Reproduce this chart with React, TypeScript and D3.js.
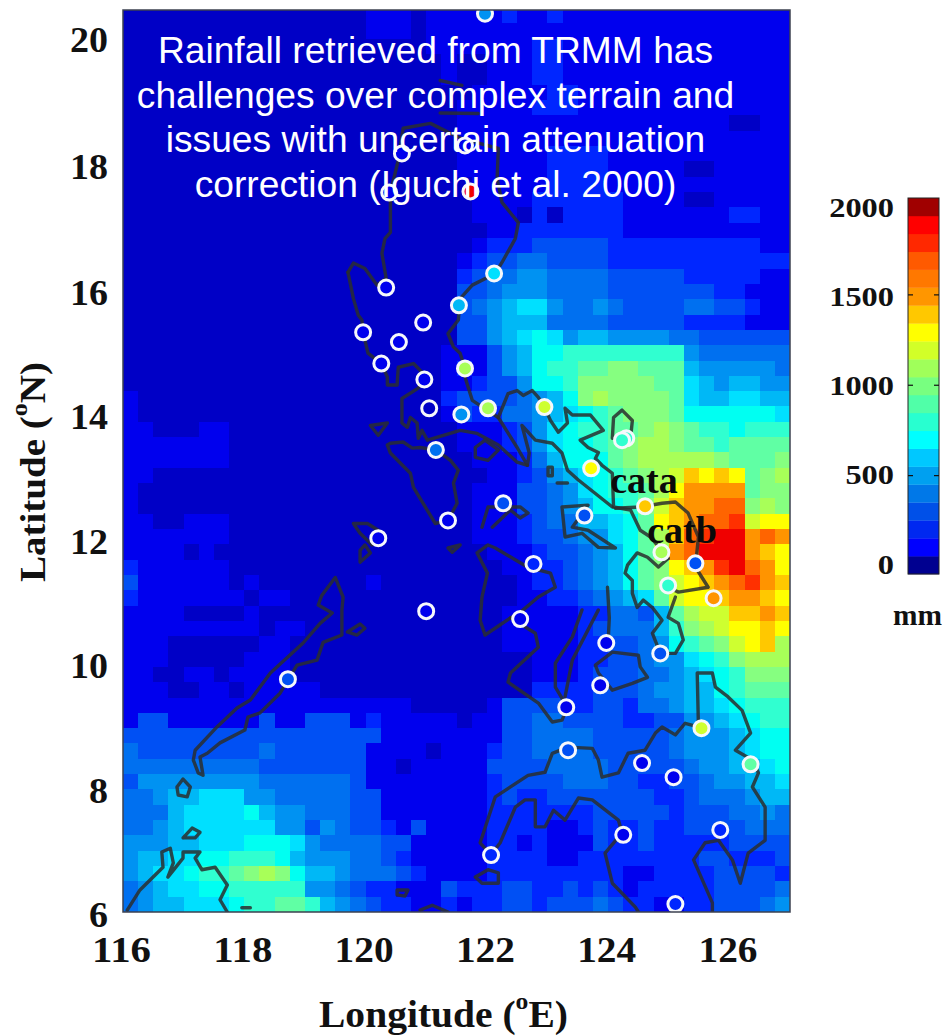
import * as d3 from "d3";

// accumulated rain on a 0.25 degree grid, top row first, one char per cell = hundreds of mm in base 36
const RAIN_WEST = [
  "0000000000000000111011", "0000000000000000111011", "0000000000000000000011",
  "0000000000000000000001", "0000000000000000000001", "0000000000000000000000",
  "0000000000000000000000", "0000000000000000000000", "0000000000000000000000",
  "0000000000000000000000", "0000000000000000000000", "0000000000000000000000",
  "0000000000000000000000", "0000000000000000000000", "0000000000000000000000",
  "0000000000000000000000", "0000000000000000000000", "0000000000000000000000",
  "0000000000000000000000", "0000000000000000000000", "0000000000000000000000",
  "0000000000000000000000", "0000000000000000000001", "0000000000000000000001",
  "0000000000000000000001", "1000000000000000000002", "1000000000000000000001",
  "1100011000000000000000", "1111111000000000000000", "1111111000000000000000",
  "1100000000000000000000", "1000000000000000000000", "1000000000000000000000",
  "1100111000000000000000", "1111111000000000000000", "1111010000000000000000",
  "2111111000000000000000", "3111111010000000100000", "2111111101100000000000",
  "1111000010000000000000", "1111111110110000000000", "1110000001100000000000",
  "1110000011100000000000", "1100110111100000000000", "1110011011111000000000",
  "1111111111111111111000", "1331111113113331211111", "3333333333333333311111",
  "4333333334333333111101", "4444444443333333110111", "3555555554444443111111",
  "4456677755444443311111", "4446777786554443311111", "4456777777553543321311",
  "5556677788875444433111", "5667788999865554432111", "5677899abcb86654443 2111".replace(/ /g, ""),
  "4567788999995543221113", "4566777899aa9654322111".slice(0, 21) + "2",
];

const RAIN_EAST = [
  "1112112111111111111111", "1111111111111111111111", "1111122111111111111111",
  "0011122111111111111111", "0011122111111111111111", "0111112211111111111111",
  "1111122211111111111111", "1111111111111111110011", "1111111111111111111111",
  "1111112222111111111111", "1111112222111110011111", "0111112222111111111111",
  "0111122222211110011111", "0111020222211111112211", "0011222222211111111111",
  "0122233333222222222211", "1233443333222222222222", "2344554444333332222211",
  "3345554444333333322111", "3456775445433334433211", "3356664444333332222111",
  "3356787566555544333333", "1135688999999995444444", "21356899aabbaaa6555554",
  "12335889bbbbbaa7656655", "33334568bcbbbba7667766", "3224456789abbba8888887",
  "1112357899aabcba998999", "1112357889abccbaa9aaaa", "0111246888abcccccbaaab",
  "00112356789abcdfefeabc", "011133457899aceggggabb", "011133456889bdfgghhbcb",
  "011123446678aefghhidee", "011123345578acfhijjghg", "001112334568acghjjjgfe",
  "000112234568abefgijhge", "000012234568abdefghigf", "0000112234567adeefggfe",
  "00011111224436acddffgf", "000111112344469bcdeefe", "0001111122334589abdefc",
  "000001112233455789bccc", "0000011123334456789bbb", "0000022223334556689aaa",
  "0013333223324456678999", "0113344333322335567899", "1113344443333345556788",
  "1123344443333345556788", "1133334444333334556678", "1123333444332233455667",
  "1123223333333223444566", "1122222223333323334454", "1122221123223223333444",
  "1122121113223222223333", "1122221122222222332223", "1222222222112222333323",
  "2223322323212222233334", "1223323334322112233345",
];

const MAP_COLORS = [
  "#0000c6", "#0000ee", "#0026ff", "#0050f4", "#0070f0", "#0092f2", "#00b8f6",
  "#00e0ff", "#00fff2", "#30ffd0", "#60ffa4", "#86ff80", "#a8ff58", "#ceff30",
  "#ffff00", "#ffc800", "#ff9400", "#ff6400", "#ff3000", "#f00000", "#a80000",
];
const BAR_COLORS = [
  "#000090", "#0000ff", "#0028f0", "#0050e8", "#0078e8", "#00a0f0", "#00c8ff",
  "#00ffff", "#28ffd0", "#50ffa8", "#78ff80", "#a0ff5a", "#d2ff28", "#ffff00",
  "#ffc800", "#ff9600", "#ff7800", "#ff5a00", "#ff2800", "#ff0000", "#a00000",
];
const BAND_VALUES = d3.range(0, 2100, 100);

const LON_TICKS = [116, 118, 120, 122, 124, 126];
const LAT_TICKS = [6, 8, 10, 12, 14, 16, 18, 20];
const BAR_TICKS = [0, 500, 1000, 1500, 2000];

const TITLE_LINES = [
  "Rainfall retrieved from TRMM has",
  "challenges over complex terrain and",
  "issues with uncertain attenuation",
  "correction (Iguchi et al. 2000)",
];

// [lon, lat, rain in mm]
const STATIONS = [
  [121.97, 20.66, 500], [120.6, 18.38, 100], [120.39, 17.74, 100], [121.64, 18.51, 100],
  [121.73, 17.76, 1900], [122.12, 16.42, 700], [121.54, 15.9, 600], [120.34, 16.19, 100],
  [119.96, 15.46, 100], [120.55, 15.3, 100], [120.95, 15.62, 100], [120.26, 14.95, 100],
  [120.97, 14.69, 100], [121.64, 14.87, 1200], [121.05, 14.22, 0], [121.58, 14.12, 500],
  [122.02, 14.22, 1200], [122.95, 14.24, 1300], [121.16, 13.54, 400], [124.3, 13.73, 900],
  [124.23, 13.7, 900], [123.72, 13.24, 1400], [124.61, 12.62, 1500], [123.61, 12.47, 300],
  [122.27, 12.67, 300], [121.36, 12.39, 100], [120.21, 12.1, 100], [122.77, 11.68, 200],
  [124.88, 11.87, 1200], [125.44, 11.69, 300], [124.99, 11.33, 900], [125.74, 11.12, 1600],
  [121.0, 10.91, 100], [122.55, 10.78, 100], [123.97, 10.39, 100], [124.86, 10.22, 300],
  [118.72, 9.8, 300], [123.87, 9.7, 100], [123.31, 9.34, 100], [125.54, 9.0, 1300],
  [123.34, 8.64, 300], [124.56, 8.43, 100], [125.08, 8.2, 100], [126.35, 8.41, 1000],
  [125.85, 7.34, 200], [124.25, 7.26, 100], [122.07, 6.93, 200], [125.11, 6.13, 200],
];

// coastlines as [lon, lat] runs
const COAST_LUZON = [
  [119.71, 16.44], [119.8, 16.59], [119.99, 16.5], [120.19, 16.23], [120.34, 16.34], [120.27, 16.75],
  [120.32, 16.99], [120.41, 17.09], [120.41, 17.74], [120.54, 18.27], [120.62, 18.79], [121.07, 18.87],
  [121.4, 18.71], [121.59, 18.62], [122.19, 18.46], [122.17, 17.97], [122.25, 17.58], [122.52, 17.25],
  [122.47, 16.99], [122.25, 16.6], [122.14, 16.42], [121.76, 16.23], [121.56, 16.01], [121.53, 15.66],
  [121.36, 15.44], [121.45, 15.22], [121.56, 15.12], [121.64, 14.87], [121.64, 14.73], [121.76, 14.35],
  [122.19, 14.07], [122.5, 13.58], [122.67, 13.29], [122.7, 13.49], [122.58, 13.94], [122.8, 13.7],
  [123.08, 13.65], [123.24, 13.49], [123.33, 13.21], [123.51, 13.05], [124.07, 12.61],
];
const COAST_LUZON_WEST = [
  [119.71, 16.44], [119.8, 16.01], [119.88, 15.74], [119.94, 15.66], [119.96, 15.46], [120.04, 15.12],
  [120.26, 14.95], [120.36, 14.73], [120.36, 14.6], [120.52, 14.6], [120.54, 14.89], [120.79, 14.95],
  [120.93, 14.81], [120.97, 14.69], [120.87, 14.55], [120.6, 14.38], [120.6, 13.98], [120.69, 13.91],
  [120.74, 14.07], [120.85, 13.98], [120.87, 13.73], [120.93, 13.86], [121.02, 13.7], [121.56, 13.86],
  [121.84, 13.81], [122.19, 13.62], [122.5, 13.34], [122.67, 13.29],
];
const COAST_BICOL = [
  [122.19, 14.07], [122.35, 14.46], [122.5, 14.51], [122.6, 14.43], [122.75, 14.51], [122.85, 14.4],
  [122.95, 14.24], [123.05, 14.02], [123.18, 13.83], [123.33, 13.98], [123.29, 14.22], [123.41, 14.11],
  [123.71, 14.11], [123.92, 13.86], [123.54, 13.7], [123.67, 13.58], [123.84, 13.5], [123.79, 13.4],
  [123.9, 13.29], [124.07, 13.16], [124.09, 12.61], [124.37, 12.56], [124.53, 12.23], [124.7, 12.12],
  [124.99, 11.77],
];
const COAST_SAMAR = [
  [124.12, 12.59], [124.53, 12.61], [124.89, 12.67], [125.11, 12.69], [125.32, 12.51], [125.49, 12.12],
  [125.44, 11.63], [125.65, 11.3], [125.16, 11.22], [124.99, 11.3],
];
const COAST_LEYTE = [
  [124.99, 11.77], [124.83, 11.63], [124.65, 11.79], [124.48, 11.86], [124.32, 11.66], [124.28, 11.53],
  [124.4, 11.41], [124.4, 11.2], [124.48, 10.97], [124.58, 11.09], [124.73, 10.97], [124.89, 10.76],
  [124.73, 10.55], [124.86, 10.22], [125.11, 10.22], [125.24, 10.44], [125.16, 10.71], [124.99, 10.81],
  [125.11, 11.14],
];
const COAST_CEBU = [[123.99, 11.3], [124.02, 10.8], [124.0, 10.39]];
const COAST_CATANDUANES = [[124.09, 14.07], [124.23, 14.19], [124.4, 14.02], [124.37, 13.73], [124.07, 13.73], [124.09, 14.07]];
const COAST_PANAY = [
  [121.84, 11.86], [122.02, 11.99], [122.14, 11.94], [122.67, 11.63], [123.05, 11.53], [123.13, 11.3],
  [122.85, 11.14], [122.55, 10.89], [122.39, 10.8], [121.97, 10.52], [121.89, 10.76], [121.92, 11.14],
  [122.01, 11.53], [121.84, 11.86],
];
const COAST_NEGROS = [
  [122.39, 10.8], [122.8, 10.55], [122.85, 10.32], [122.39, 9.9], [122.35, 9.75], [122.85, 9.41],
  [123.08, 9.1], [123.24, 9.13], [123.33, 9.34], [123.13, 9.67], [123.13, 10.06], [123.41, 10.49],
  [123.57, 10.93],
];
const COAST_NEGROS_EAST = [[123.29, 9.51], [123.41, 10.11], [123.84, 10.93]];
const COAST_BOHOL = [
  [123.84, 9.9], [123.79, 10.03], [124.07, 10.24], [124.5, 10.19], [124.53, 10.0], [124.65, 9.83],
  [124.4, 9.73], [124.07, 9.62], [123.84, 9.9],
];
const COAST_MINDANAO = [
  [122.07, 6.93], [121.89, 7.13], [122.14, 7.88], [122.68, 8.23], [122.96, 8.28], [123.08, 8.59], [123.34, 8.69],
  [123.74, 8.67], [123.84, 8.48], [123.9, 8.2], [124.17, 8.27], [124.33, 8.59], [124.61, 8.64],
  [124.78, 8.92], [124.89, 9.02], [125.11, 8.89], [125.27, 9.08], [125.49, 9.02], [125.47, 9.9],
  [125.72, 9.9], [125.77, 9.67], [125.98, 9.51], [126.21, 9.29], [126.35, 8.92], [126.1, 8.64],
  [126.38, 8.48], [126.48, 8.27], [126.38, 8.04], [126.59, 7.71], [126.59, 7.17], [126.31, 6.96],
  [126.18, 6.47], [126.05, 6.85], [125.82, 7.17], [125.6, 7.13], [125.41, 6.85], [125.72, 6.15], [125.72, 6.0],
];
const COAST_MORO = [
  [122.07, 6.93], [122.22, 7.13], [122.47, 7.71], [122.63, 7.83], [122.8, 7.83], [122.8, 7.39], [122.96, 7.39],
  [123.1, 7.66], [123.29, 7.5], [123.51, 7.86], [123.74, 7.83], [124.17, 7.5], [124.23, 7.29],
  [123.95, 6.96], [124.07, 6.47], [124.45, 6.08], [124.5, 6.0],
];
const COAST_ZAMBOANGA = [[121.81, 6.57], [122.02, 6.69], [122.19, 6.64], [122.19, 6.47], [121.92, 6.47], [121.81, 6.57]];
const COAST_PALAWAN = [
  [119.61, 10.93], [119.61, 10.52], [119.3, 10.4], [119.2, 10.11], [118.87, 10.03], [118.59, 9.57],
  [118.26, 9.25], [118.06, 9.18], [118.01, 8.97], [117.6, 8.76], [117.39, 8.59], [117.27, 8.53],
  [117.32, 8.23], [117.24, 8.27], [117.16, 8.48], [117.19, 8.64], [117.55, 9.02], [117.88, 9.33],
  [118.1, 9.46], [118.43, 9.9], [118.97, 10.39], [119.25, 10.71], [119.45, 10.88], [119.22, 11.01],
  [119.28, 11.17], [119.5, 11.46], [119.63, 11.14], [119.61, 10.93],
];
const COAST_BORNEO = [
  [116.07, 6.03], [116.28, 6.36], [116.66, 6.73], [116.64, 6.98], [116.78, 7.04], [116.83, 6.8],
  [116.74, 6.57], [116.99, 6.88], [116.99, 6.98], [117.27, 6.98], [117.19, 6.88], [117.3, 6.69],
  [117.52, 6.73], [117.72, 6.44], [117.6, 6.2], [117.72, 6.0],
];
const COAST_MINDORO = [
  [120.36, 13.62], [120.41, 13.49], [120.74, 13.16], [120.79, 12.93], [121.15, 12.34], [121.36, 12.39],
  [121.51, 12.67], [121.45, 13.0], [121.53, 13.21], [121.4, 13.37], [121.16, 13.54], [120.9, 13.58],
  [120.77, 13.57], [120.62, 13.67], [120.41, 13.65], [120.36, 13.62],
];
const COAST_MASBATE = [
  [123.24, 12.61], [123.67, 12.64], [123.41, 12.28], [123.67, 12.23], [124.12, 11.94], [123.84, 11.95],
  [123.57, 12.18], [123.29, 12.12], [123.24, 12.61],
];
const COAST_SIBUYAN = [[121.92, 12.28], [122.02, 12.61], [122.55, 12.61], [122.68, 12.51], [122.55, 12.43], [122.39, 12.56], [122.09, 12.28]];
const SMALL_ISLANDS = [
  [[119.7, 10.57], [119.91, 10.7], [119.99, 10.63], [119.86, 10.52], [119.7, 10.57]],
  [[116.89, 8.04], [116.99, 8.17], [117.11, 8.04], [117.06, 7.88], [116.91, 7.91], [116.89, 8.04]],
  [[116.99, 7.21], [117.14, 7.37], [117.27, 7.3], [117.19, 7.21], [116.99, 7.21]],
  [[120.9, 6.03], [121.1, 6.11], [121.36, 6.0]],
  [[120.52, 6.36], [120.7, 6.36], [120.65, 6.26], [120.52, 6.28], [120.52, 6.36]],
  [[117.96, 6.07], [118.1, 6.07]],
  [[120.08, 13.94], [120.36, 13.98], [120.21, 13.78], [120.08, 13.94]],
  [[119.8, 12.34], [120.03, 12.34], [120.21, 12.23], [120.11, 11.99], [119.91, 12.18], [119.8, 12.34]],
  [[119.91, 11.9], [119.99, 11.99], [120.08, 11.86], [119.91, 11.71], [119.91, 11.9]],
  [[121.36, 11.94], [121.56, 11.99], [121.43, 11.87], [121.36, 11.94]],
  [[121.81, 13.58], [121.97, 13.7], [122.19, 13.54], [122.02, 13.37], [121.81, 13.42], [121.81, 13.58]],
  [[123.01, 13.26], [123.08, 13.26], [123.08, 13.12], [123.01, 13.12], [123.01, 13.26]],
  [[123.16, 13.0], [123.33, 13.0]],
  [[121.23, 19.57], [121.59, 19.49]],
  [[121.23, 19.04], [121.86, 19.03]],
];
const COASTS = [
  COAST_LUZON, COAST_LUZON_WEST, COAST_BICOL, COAST_SAMAR, COAST_LEYTE, COAST_CEBU, COAST_CATANDUANES,
  COAST_PANAY, COAST_NEGROS, COAST_NEGROS_EAST, COAST_BOHOL, COAST_MINDANAO, COAST_MORO, COAST_ZAMBOANGA,
  COAST_PALAWAN, COAST_BORNEO, COAST_MINDORO, COAST_MASBATE, COAST_SIBUYAN, ...SMALL_ISLANDS,
];

const W = 944, H = 1036;
const x = d3.scaleLinear().domain([116, 127]).range([123, 790]);
const y = d3.scaleLinear().domain([6, 20.72]).range([912, 10]);
// tick labels in the original are not quite evenly spaced with the map
const yLabel = d3.scaleLinear().domain([6, 16, 20]).range([927, 305, 52]);
const xLabel = d3.scaleLinear().domain([116, 126]).range([121.5, 728]);

const color = d3.scaleThreshold<number, string>()
  .domain(BAND_VALUES.slice(1).map(d => d - 50))
  .range(MAP_COLORS);

const barBand = d3.scaleBand<number>().domain(BAND_VALUES).range([574, 198]);
const barY = d3.scaleLinear().domain([0, 2000]).range([566, 204.5]);
const barLabel = d3.scaleLinear().domain([0, 2000]).range([573.5, 217]);

const coastLine = d3.line<number[]>().x(d => x(d[0])).y(d => y(d[1]));

const serif = "'Liberation Serif', serif";
const INK = "#111";

const cells = RAIN_WEST.flatMap((west, i) => {
  const row = west + RAIN_EAST[i];
  const lat = 6 + (RAIN_WEST.length - 1 - i) * 0.25;
  return row.split("").map((c, k) => ({ lon: 116 + k * 0.25, lat, rain: parseInt(c, 36) * 100 }));
});

export default function App() {
  const mapBox = { x: x(116), y: y.range()[1], width: x(127) - x(116), height: y.range()[0] - y.range()[1] };
  return (
    <svg width={W} height={H} style={{ position: "absolute", left: 0, top: 0, display: "block", background: "#fff" }}>
      <defs>
        <clipPath id="map"><rect {...mapBox} /></clipPath>
      </defs>

      <g clipPath="url(#map)">
        <g shapeRendering="crispEdges">
          {cells.map((d, i) => (
            <rect key={i} x={x(d.lon)} y={y(d.lat + 0.25)} width={x(d.lon + 0.25) - x(d.lon)}
              height={y(d.lat) - y(d.lat + 0.25)} fill={color(d.rain)} />
          ))}
        </g>
        {COASTS.map((c, i) => (
          <path key={i} d={coastLine(c) || ""} fill="none" stroke="#2a2e2e" strokeOpacity={0.85} strokeWidth={3.4}
            strokeLinejoin="round" strokeLinecap="round" />
        ))}
        {STATIONS.map((s, i) => (
          <circle key={i} cx={x(s[0])} cy={y(s[1])} r={7.5} fill={color(s[2])} stroke="#f6f8fb" strokeWidth={3} />
        ))}
      </g>
      <rect {...mapBox} fill="none" stroke="#3c4150" strokeWidth={1.5} />

      {LAT_TICKS.map(t => (
        <text key={t} x={108} y={yLabel(t)} textAnchor="end" fontFamily={serif} fontWeight="bold" fontSize={36}
          textLength={String(t).length * 19} lengthAdjust="spacingAndGlyphs" fill={INK}>{t}</text>
      ))}
      {LON_TICKS.map(t => (
        <text key={t} x={xLabel(t)} y={962} textAnchor="middle" fontFamily={serif} fontWeight="bold" fontSize={36}
          textLength={59} lengthAdjust="spacingAndGlyphs" fill={INK}>{t}</text>
      ))}

      <text transform="translate(45,472) rotate(-90)" textAnchor="middle" fontFamily={serif} fontWeight="bold" fontSize={36}
        textLength={220} lengthAdjust="spacingAndGlyphs" fill={INK}>
        Latitude (<tspan fontSize={24} dy={-18}>o</tspan><tspan dy={18}>N)</tspan>
      </text>
      <text x={443.5} y={1027} textAnchor="middle" fontFamily={serif} fontWeight="bold" fontSize={37}
        textLength={249} lengthAdjust="spacingAndGlyphs" fill={INK}>
        Longitude (<tspan fontSize={24} dy={-18}>o</tspan><tspan dy={18}>E)</tspan>
      </text>

      <text x={644} y={493} textAnchor="middle" fontFamily={serif} fontWeight="bold" fontSize={38} fill="#0a0a0a">cata</text>
      <text x={682} y={543} textAnchor="middle" fontFamily={serif} fontWeight="bold" fontSize={38} fill="#0a0a0a">catb</text>

      {TITLE_LINES.map(line => (
        <text key={line} x={435.5} y={63 + TITLE_LINES.indexOf(line) * 44.7} textAnchor="middle"
          fontFamily="'Liberation Sans', sans-serif" fontSize={37.2} fill="#fff">{line}</text>
      ))}

      {BAND_VALUES.map((v, i) => (
        <rect key={v} x={908} y={barBand(v)} width={31} height={barBand.bandwidth() + 0.3} fill={BAR_COLORS[i]} />
      ))}
      <rect x={908} y={198} width={31} height={376} fill="none" stroke="#222" strokeWidth={1} />
      {BAR_TICKS.slice(1, 4).map(t => (
        <g key={t} stroke={INK} strokeWidth={1.2}>
          <line x1={908} x2={913} y1={barY(t)} y2={barY(t)} />
          <line x1={934} x2={939} y1={barY(t)} y2={barY(t)} />
        </g>
      ))}
      {BAR_TICKS.map(t => (
        <text key={t} x={894} y={barLabel(t)} textAnchor="end" fontFamily={serif} fontWeight="bold" fontSize={28}
          textLength={String(t).length * 16.2} lengthAdjust="spacingAndGlyphs" fill={INK}>{t}</text>
      ))}
      <text x={917.5} y={625} textAnchor="middle" fontFamily={serif} fontWeight="bold" fontSize={30}
        textLength={49} lengthAdjust="spacingAndGlyphs" fill={INK}>mm</text>
    </svg>
  );
}
